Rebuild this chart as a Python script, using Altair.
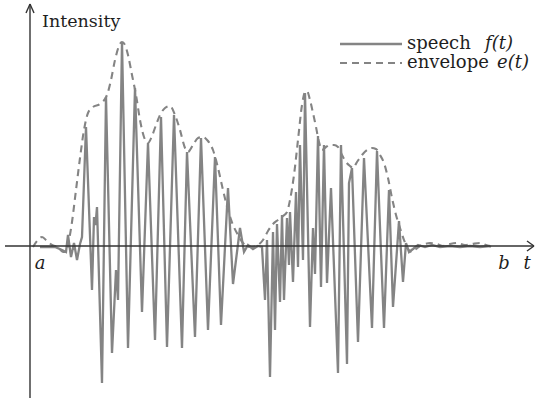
import altair as alt
import pandas as pd

# speech waveform f(t): time and intensity (axis origin at t=0, intensity=0)
speech_t = [10, 25, 32, 36, 38, 41, 44, 47, 50, 52, 56, 62, 64, 65.5, 67, 72, 76, 82, 86, 88,
            92, 98, 105, 112, 118, 125, 131, 137, 144, 152, 157, 165, 171, 178, 185, 191, 198,
            203, 210, 214, 218, 223, 228, 232, 235, 237, 240, 243, 245, 247, 250, 252, 254,
            257, 259, 260, 263, 266, 268, 270, 273, 275, 280, 283, 285, 288, 291, 294, 297,
            301, 308, 311, 317, 319, 322, 328, 334, 342, 347, 354, 359, 363, 369, 373, 376,
            379, 383, 388, 395, 402, 410, 420, 430, 440, 450, 460]
speech_v = [-1, -1, -4, -6, 11, -11, 3, -14, 2, 9, 119, -44, 29, 21, 39, -137, 149, -107, -24, -54,
            204, -102, 158, -66, 103, -94, 129, -101, 131, -102, 94, -91, 108, -84, 89, -79, 58,
            -38, 18, -6, 1, -3, 0, -1, -54, 6, -131, 14, -84, 22, -56, 31, -54,
            28, -19, 34, -36, 54, -21, 101, -14, 153, -81, 18, -28, 110, -41, 101, -37,
            58, -127, 101, -118, 63, 78, -96, 88, -82, 95, -82, 56, -61, 25, -36, 3,
            -6, -3, 1, -1, 1, -1, 0, -1, 0, -1, 0]

# envelope e(t)
env_t = [3, 7, 12, 17, 22, 28, 33, 36, 39, 42, 46, 50, 54, 58, 63, 70, 77, 81, 85, 89, 92, 95,
         98, 102, 106, 110, 114, 118, 122, 126, 130, 135, 140, 145, 150, 155, 158, 163, 168,
         173, 178, 183, 188, 193, 198, 203, 208, 213, 218, 223, 228, 233, 238, 243, 248, 253,
         257, 260, 264, 268, 272, 275, 277, 280, 283, 286, 289, 292, 296, 300, 304, 308, 312,
         316, 320, 323, 327, 332, 337, 342, 346, 350, 354, 358, 362, 366, 370, 374, 378, 382,
         386, 390, 395, 400, 407, 413, 420, 427, 435, 442, 450, 456, 462]
env_v = [-1, 5, 9, 5, 1, -1, -6, -6, 6, 24, 56, 88, 116, 133, 139, 142, 151, 166, 186, 200, 204, 201,
         191, 171, 151, 126, 109, 103, 110, 121, 131, 138, 140, 131, 116, 98, 94, 101, 108,
         109, 105, 96, 78, 56, 36, 21, 11, 3, -1, -1, 1, 6, 15, 22, 26, 30,
         34, 46, 71, 106, 141, 154, 155, 146, 133, 119, 104, 96, 99, 101, 101, 99, 91,
         84, 80, 78, 84, 91, 96, 98, 97, 91, 83, 68, 48, 31, 18, 6, -3, -6,
         -3, 0, 2, 3, 2, 0, 2, 3, 1, 2, 3, 1, -1]

# axes with arrow heads (segments in data units)
axis_x1 = [0, -25, 0, 0, 504, 504]
axis_y1 = [-152, 0, 242, 242, 0, 0]
axis_x2 = [0, 504, -4, 4, 497, 497]
axis_y2 = [242, 0, 233, 233, 5, -5]

W, H = 535, 404
xs = alt.Scale(domain=[-30, 505], nice=False, zero=False)
ys = alt.Scale(domain=[-158, 246], nice=False, zero=False)

GRAY = "#848484"
INK = "#1e1e1e"
SERIF = "DejaVu Serif"

speech_df = pd.DataFrame({"t": speech_t, "v": speech_v})
env_df = pd.DataFrame({"t": env_t, "v": env_v})
axes_df = pd.DataFrame({"x": axis_x1, "y": axis_y1, "x2": axis_x2, "y2": axis_y2})
one = pd.DataFrame({"k": [0]})

speech = alt.Chart(speech_df).mark_line(color=GRAY, strokeWidth=2.3).encode(
    x=alt.X("t:Q", scale=xs, axis=None),
    y=alt.Y("v:Q", scale=ys, axis=None),
    order="t:Q",
)

envelope = alt.Chart(env_df).mark_line(
    color=GRAY, strokeWidth=2.1, strokeDash=[7, 5], interpolate="monotone"
).encode(
    x=alt.X("t:Q", scale=xs, axis=None),
    y=alt.Y("v:Q", scale=ys, axis=None),
    order="t:Q",
)

axes = alt.Chart(axes_df).mark_rule(color="#333333", strokeWidth=1.4).encode(
    x=alt.X("x:Q", scale=xs, axis=None),
    y=alt.Y("y:Q", scale=ys, axis=None),
    x2="x2:Q",
    y2="y2:Q",
)


def label(text, x, y, italic=False, align="left", size=18):
    return alt.Chart(one).mark_text(
        text=text, font=SERIF, fontSize=size, color=INK, align=align,
        baseline="alphabetic", fontStyle="italic" if italic else "normal",
    ).encode(x=alt.value(x), y=alt.value(y))


leg_solid = alt.Chart(one).mark_rule(color=GRAY, strokeWidth=2.6).encode(
    x=alt.value(340), x2=alt.value(402), y=alt.value(44)
)
leg_dash = alt.Chart(one).mark_rule(color=GRAY, strokeWidth=2.1, strokeDash=[7, 5]).encode(
    x=alt.value(340), x2=alt.value(402), y=alt.value(63)
)

chart = alt.layer(
    speech,
    envelope,
    axes,
    leg_solid,
    leg_dash,
    label("Intensity", 42, 27, size=17.5),
    label("speech", 407, 49),
    label("f(t)", 485, 49, italic=True),
    label("envelope", 407, 68),
    label("e(t)", 497, 68, italic=True),
    label("a", 40, 269, italic=True, align="center"),
    label("b", 504, 269, italic=True, align="center"),
    label("t", 527, 269, italic=True, align="center"),
).properties(
    width=W, height=H, padding=0, autosize=alt.AutoSizeParams(type="none")
).configure_view(stroke=None)

chart.save("out.html", embed_options={"renderer": "svg", "actions": False})
